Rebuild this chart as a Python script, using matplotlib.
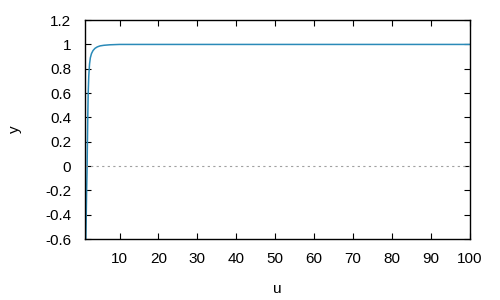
import matplotlib
matplotlib.use("Agg")
import matplotlib.pyplot as plt
from matplotlib.ticker import FuncFormatter

u = [1.35, 1.45, 1.55, 1.65, 1.75, 1.85, 1.95, 2.1, 2.3, 2.5, 2.8, 3.2, 3.7, 4.3, 5.0, 6.0, 7.5, 10, 20, 50, 100]
y = [-0.6, -0.4, -0.2, -0.05, 0.2, 0.42, 0.6, 0.74, 0.84, 0.89, 0.925, 0.95, 0.968, 0.98, 0.988, 0.993, 0.997, 1.0, 1.0, 1.0, 1.0]
xticks = [10, 20, 30, 40, 50, 60, 70, 80, 90, 100]
yticks = [-0.6, -0.4, -0.2, 0, 0.2, 0.4, 0.6, 0.8, 1, 1.2]

plt.rcParams['font.family'] = ['Liberation Sans', 'DejaVu Sans']
fig = plt.figure(figsize=(5, 3), dpi=100)
ax = fig.add_axes([0.169, 0.203, 0.77, 0.730])
ax.plot(u, y, color='#2a8ab8', lw=1.1)
ax.axhline(0, color='#a0a0a0', lw=0.8, ls=(0, (2, 3)))
ax.set_xlim(1, 100)
ax.set_ylim(-0.6, 1.2)
ax.set_xticks(xticks)
ax.set_yticks(yticks)
ax.yaxis.set_major_formatter(FuncFormatter(lambda v, p: '%g' % round(v, 2)))
ax.tick_params(direction='in', top=True, right=True, length=4, width=0.8,
               labelsize=11, colors='black')
ax.tick_params(axis='x', pad=9)
ax.tick_params(axis='y', pad=9.5)
for s in ax.spines.values():
    s.set_linewidth(1.0)
ax.set_xlabel('u', fontsize=11, labelpad=11.5)
ax.set_ylabel('y', fontsize=11, labelpad=17)
fig.savefig('out.png', dpi=100)
